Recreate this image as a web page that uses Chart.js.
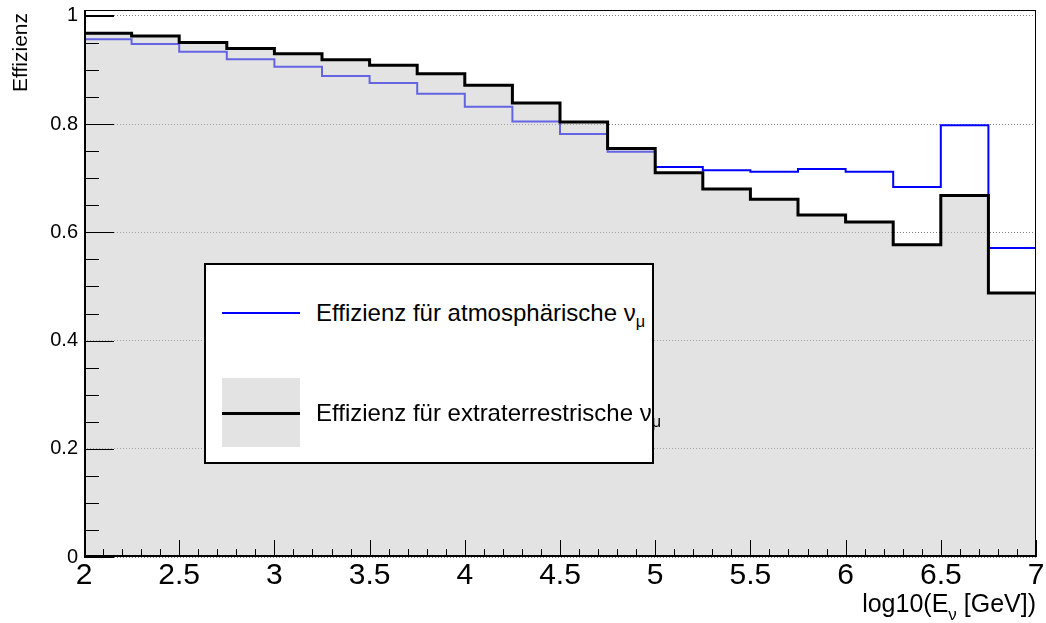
<!DOCTYPE html>
<html lang="de">
<head>
<meta charset="UTF-8">
<title>Effizienz</title>
<script src="https://cdn.jsdelivr.net/npm/chart.js"></script>
<style>
    body { margin: 0; background: #fff; }
    #wrap { position: relative; width: 1046px; height: 623px; font-family: "Liberation Sans", Arial, sans-serif; color: #000; }
    #wrap canvas { position: absolute; left: 0; top: 0; }
    .abs { position: absolute; white-space: nowrap; }
    #legend { left: 204px; top: 263px; width: 446px; height: 197px; border: 2px solid #000; background: #fff; }
    .ltext { font-size: 24px; line-height: 24px; }
    .sub { font-size: 0.68em; position: relative; top: 0.35em; }
</style>
</head>
<body>
<div id="wrap">
    <canvas id="chart"></canvas>

    <div id="legend" class="abs"></div>
    <div class="abs" style="left:222px;top:312px;width:78px;height:2px;background:#0000ff"></div>
    <div class="abs" style="left:222px;top:378px;width:78px;height:69px;background:#e3e3e3"></div>
    <div class="abs" style="left:222px;top:412px;width:78px;height:3px;background:#000"></div>
    <div class="abs ltext" style="left:316px;top:301px">Effizienz für atmosphärische ν<span class="sub">μ</span></div>
    <div class="abs ltext" style="left:316px;top:401px">Effizienz für extraterrestrische ν<span class="sub">μ</span></div>

    <!-- axis titles -->
    <div class="abs" style="right:10px;top:591px;font-size:25px;line-height:25px">log10(E<span class="sub" style="top:0.45em">ν</span> [GeV])</div>
    <div class="abs" style="left:9px;top:213px;width:200px;text-align:right;font-size:21px;line-height:21px;transform-origin:0 0;transform:rotate(-90deg)">Effizienz</div>
</div>

<script>
    // bin edges of log10(E_nu / GeV)
    const binEdges = [2, 2.25, 2.5, 2.75, 3, 3.25, 3.5, 3.75, 4, 4.25, 4.5,
                      4.75, 5, 5.25, 5.5, 5.75, 6, 6.25, 6.5, 6.75, 7];

    // efficiency for atmospheric nu_mu (blue)
    const effAtmo = [0.957, 0.948, 0.934, 0.920, 0.906, 0.889, 0.876, 0.856, 0.832, 0.805,
                     0.782, 0.749, 0.721, 0.715, 0.712, 0.717, 0.712, 0.684, 0.798, 0.571];

    // efficiency for extraterrestrial nu_mu (black, filled)
    const effExtra = [0.968, 0.963, 0.951, 0.940, 0.930, 0.919, 0.909, 0.893, 0.872, 0.839,
                      0.804, 0.755, 0.710, 0.680, 0.661, 0.632, 0.619, 0.577, 0.668, 0.488];

    const xTicks = [2, 2.5, 3, 3.5, 4, 4.5, 5, 5.5, 6, 6.5, 7];
    const yTicks = [0, 0.2, 0.4, 0.6, 0.8, 1];

    // histogram -> step points (last bin repeated at the right edge)
    function histPoints(values) {
        const pts = values.map((v, i) => ({ x: binEdges[i], y: v }));
        pts.push({ x: binEdges[binEdges.length - 1], y: values[values.length - 1] });
        return pts;
    }

    const font = "'Liberation Sans', Arial, sans-serif";

    // ROOT style frame with inner tick marks
    const frameTicks = {
        id: 'frameTicks',
        afterDraw(chart) {
            const { ctx, chartArea: a, scales: { x, y } } = chart;
            ctx.save();
            ctx.strokeStyle = '#000';
            ctx.lineWidth = 1;
            ctx.strokeRect(a.left + 0.5, a.top + 0.5, a.right - a.left - 1, a.bottom - a.top - 1);

            ctx.beginPath();
            for (let i = 0; i <= 50; i++) {
                const px = Math.round(x.getPixelForValue(2 + i * 0.1)) + 0.5;
                const len = i % 5 === 0 ? 17 : 8;
                ctx.moveTo(px, a.bottom);
                ctx.lineTo(px, a.bottom - len);
            }
            for (let i = 0; i <= 20; i++) {
                const py = Math.round(y.getPixelForValue(i * 0.05)) + 0.5;
                const len = i % 4 === 0 ? 30 : 15;
                ctx.moveTo(a.left, py);
                ctx.lineTo(a.left + len, py);
            }
            ctx.stroke();

            ctx.lineWidth = 2;
            ctx.beginPath();
            ctx.moveTo(a.left + 1, a.top);
            ctx.lineTo(a.left + 1, a.bottom);
            ctx.moveTo(a.left, a.bottom - 1);
            ctx.lineTo(a.right, a.bottom - 1);
            // the heavier mark at 1 on the y axis
            const p1 = Math.round(y.getPixelForValue(1));
            ctx.moveTo(a.left, p1);
            ctx.lineTo(a.left + 30, p1);
            ctx.stroke();
            ctx.restore();
        }
    };

    new Chart(document.getElementById('chart'), {
        type: 'line',
        data: {
            datasets: [{
                label: 'Effizienz für atmosphärische νμ',
                data: histPoints(effAtmo),
                borderColor: '#0000ff',
                borderWidth: 2,
                stepped: 'before',
                fill: false,
                order: 2
            }, {
                label: 'Effizienz für extraterrestrische νμ',
                data: histPoints(effExtra),
                borderColor: '#000000',
                backgroundColor: 'rgba(200, 200, 200, 0.5)',
                borderWidth: 3,
                stepped: 'before',
                fill: 'origin',
                order: 1
            }]
        },
        options: {
            responsive: true,
            maintainAspectRatio: false,
            animation: false,
            events: [],
            layout: { padding: { top: 10, right: 10, left: 0, bottom: 0 } },
            elements: {
                point: { radius: 0 },
                line: { tension: 0, borderJoinStyle: 'miter', borderCapStyle: 'butt' }
            },
            plugins: { legend: { display: false }, tooltip: { enabled: false } },
            scales: {
                x: {
                    type: 'linear',
                    min: 2,
                    max: 7,
                    afterBuildTicks: s => { s.ticks = xTicks.map(v => ({ value: v })); },
                    afterFit: s => { s.height = 66; },
                    grid: { display: false, drawTicks: true, tickLength: 4, tickColor: 'rgba(0,0,0,0)' },
                    border: { display: false },
                    ticks: {
                        autoSkip: false,
                        maxRotation: 0,
                        padding: 0,
                        color: '#000',
                        font: { family: font, size: 30, lineHeight: 1 },
                        callback: v => String(v)
                    }
                },
                y: {
                    min: 0,
                    max: 1.011,
                    z: 1,
                    afterBuildTicks: s => { s.ticks = yTicks.map(v => ({ value: v })); },
                    afterFit: s => { s.width = 84; },
                    grid: { color: '#808080', lineWidth: 1, drawTicks: true, tickLength: 6, tickColor: 'rgba(0,0,0,0)' },
                    border: { display: false, dash: [1, 2] },
                    ticks: {
                        padding: 0,
                        color: '#000',
                        font: { family: font, size: 20, lineHeight: 1 },
                        callback: v => String(v)
                    }
                }
            }
        },
        plugins: [frameTicks]
    });
</script>
</body>
</html>
